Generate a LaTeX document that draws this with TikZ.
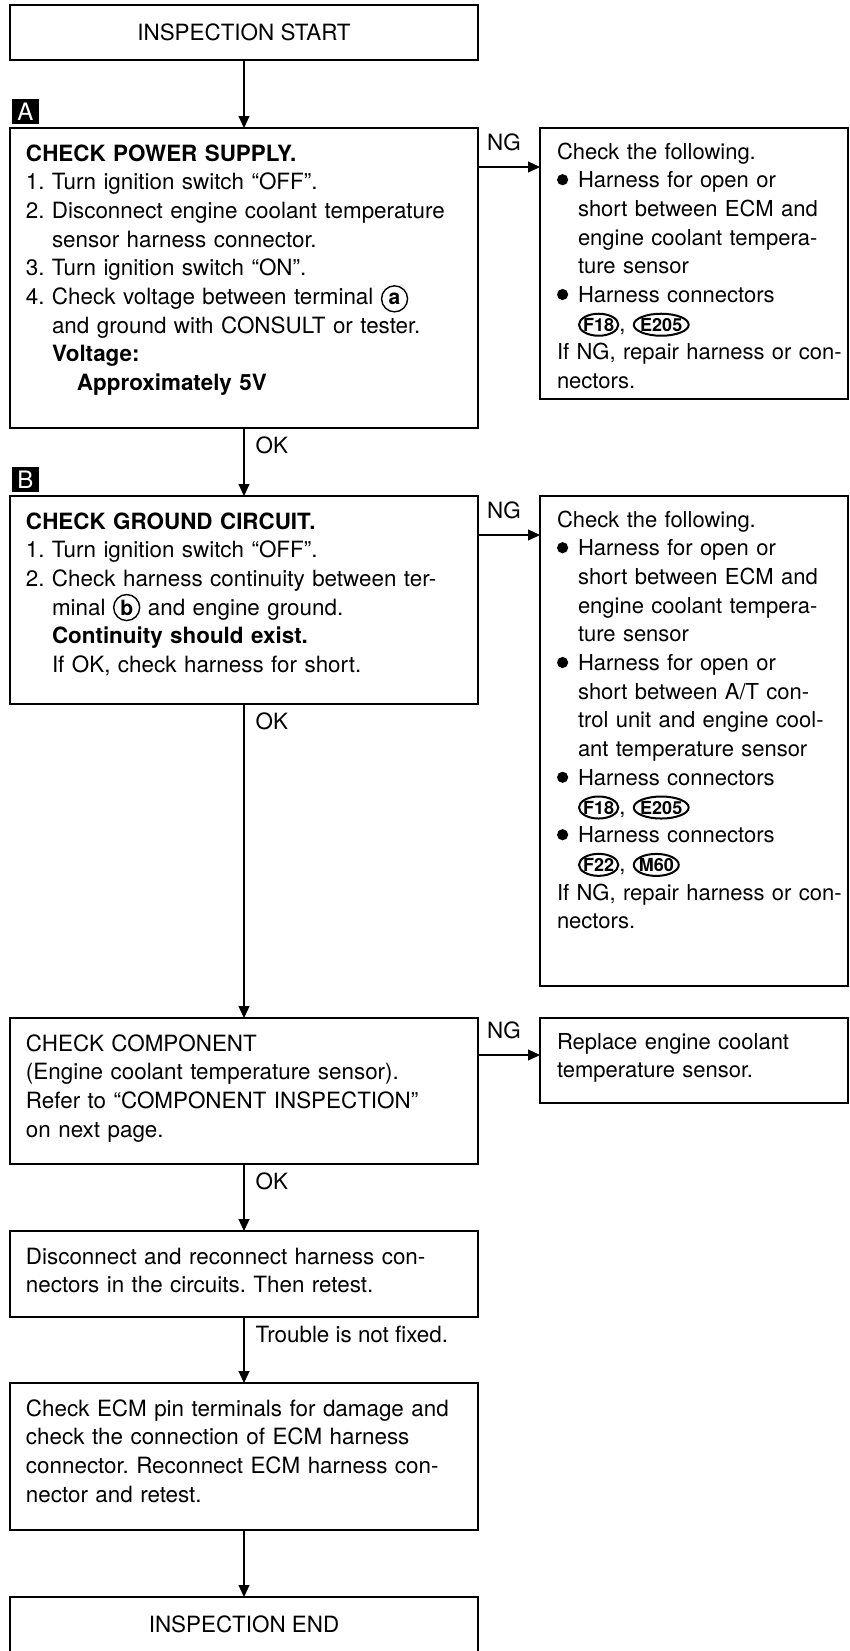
\documentclass[tikz,border=0pt]{standalone}
\usepackage{fontspec}
\setmainfont{TeX Gyre Heros}
\usetikzlibrary{positioning,shapes.geometric,arrows.meta}
\frenchspacing

\newcommand{\txt}{\fontsize{11.2}{14.35}\selectfont}
\newcommand{\sidetxt}{\fontsize{11}{14.35}\selectfont}
\newcommand{\lbltxt}{\fontsize{11.2}{14}\selectfont}
\newcommand{\nr}[1]{\makebox[13pt][l]{#1}}
\newcommand{\ind}{\hspace*{13pt}}
\newcommand{\bind}{\hspace*{10.5pt}}
\newcommand{\blt}{\makebox[10.5pt][l]{\tikz[baseline=-4pt]\fill (2.8pt,0) circle (2.8pt);}}
\newcommand{\conn}[1]{\tikz[baseline=(cn.base)]\node[cnoval] (cn) {#1};}
\newcommand{\term}[1]{\tikz[baseline=(tm.base)]\node[termcirc] (tm) {#1};}

\tikzset{
    nested/.style={text width={}, text height={}, text depth={}, align=center, execute at begin node={}},
    cnoval/.style={nested, ellipse, draw, line width=1pt, inner xsep=-0.8pt, inner ysep=0pt, minimum height=11pt, font=\bfseries\fontsize{9}{9}\selectfont},
    termcirc/.style={nested, circle, draw, line width=0.7pt, inner sep=0pt, minimum size=13pt, font=\bfseries\fontsize{10.5}{10.5}\selectfont},
}

\begin{document}
\begin{tikzpicture}[
    box/.style={draw, line width=0.8pt, outer sep=0pt},
    mainbox/.style={box, text width=220pt, inner xsep=7pt, inner ysep=0pt, align=left, text height=16.5pt, font=\txt,
        execute at begin node={\leftskip=1pt\rightskip=0pt plus 1fil minus 20pt}},
    sidebox/.style={box, text width=143pt, inner xsep=5.5pt, inner ysep=0pt, align=left, text height=15.5pt, font=\sidetxt,
        execute at begin node={\leftskip=3pt\rightskip=0pt plus 1fil minus 20pt}},
    endbox/.style={box, minimum width=234pt, minimum height=27.5pt, inner sep=0pt, font=\lbltxt},
    marker/.style={fill=black, text=white, minimum width=13.5pt, minimum height=12.5pt, inner sep=0pt, outer sep=0pt, font=\fontsize{12}{12}\selectfont},
    flow/.style={line width=0.6pt, -{Triangle[length=6pt, width=5.5pt]}},
    lbl/.style={inner sep=2pt, font=\lbltxt},
]
    \useasboundingbox (0,0) rectangle (425pt,-825.5pt);

    % Start
    \node[endbox, anchor=north west] (start) at (5pt,-2.5pt) {INSPECTION START};

    % A
    \node[mainbox, text depth=133.5pt, below=34pt of start] (A) {%
        \textbf{CHECK POWER SUPPLY.}\\
        \nr{1.}Turn ignition switch “OFF”.\\
        \nr{2.}Disconnect engine coolant temperature\\
        \ind sensor harness connector.\\
        \nr{3.}Turn ignition switch “ON”.\\
        \nr{4.}Check voltage between terminal \term{a}\\
        \ind and ground with CONSULT or tester.\\
        \ind\textbf{Voltage:}\\
        \hspace*{25.5pt}\textbf{Approximately 5V}};
    \node[marker, above right=2pt and 1pt of A.north west] (mA) {A};
    \node[sidebox, text depth=120pt, right=31pt of A.north east, anchor=north west] (ngA) {%
        Check the following.\\
        \blt Harness for open or\\
        \bind short between ECM and\\
        \bind engine coolant tempera-\\
        \bind ture sensor\\
        \blt Harness connectors\\
        \bind\conn{F18}, \conn{E205}\\
        If NG, repair harness or con-\\
        nectors.};

    % B
    \node[mainbox, text depth=87.5pt, below=34pt of A] (B) {%
        \textbf{CHECK GROUND CIRCUIT.}\\
        \nr{1.}Turn ignition switch “OFF”.\\
        \nr{2.}Check harness continuity between ter-\\
        \ind minal \term{b} and engine ground.\\
        \ind\textbf{Continuity should exist.}\\
        \ind If OK, check harness for short.};
    \node[marker, above right=2pt and 1pt of B.north west] (mB) {B};
    \node[sidebox, text depth=229.5pt, right=31pt of B.north east, anchor=north west] (ngB) {%
        Check the following.\\
        \blt Harness for open or\\
        \bind short between ECM and\\
        \bind engine coolant tempera-\\
        \bind ture sensor\\
        \blt Harness for open or\\
        \bind short between A/T con-\\
        \bind trol unit and engine cool-\\
        \bind ant temperature sensor\\
        \blt Harness connectors\\
        \bind\conn{F18}, \conn{E205}\\
        \blt Harness connectors\\
        \bind\conn{F22}, \conn{M60}\\
        If NG, repair harness or con-\\
        nectors.};

    % component
    \node[mainbox, text depth=56.5pt, below=157pt of B] (comp) {%
        CHECK COMPONENT\\
        (Engine coolant temperature sensor).\\
        Refer to “COMPONENT INSPECTION”\\
        on next page.};
    \node[sidebox, text depth=27pt, right=31pt of comp.north east, anchor=north west] (rep) {%
        Replace engine coolant\\
        temperature sensor.};

    % reconnect, ECM, end
    \node[mainbox, text depth=26.5pt, below=33.5pt of comp] (disc) {%
        Disconnect and reconnect harness con-\\
        nectors in the circuits. Then retest.};
    \node[mainbox, text depth=57pt, below=33pt of disc] (ecm) {%
        Check ECM pin terminals for damage and\\
        check the connection of ECM harness\\
        connector. Reconnect ECM harness con-\\
        nector and retest.};
    \node[endbox, below=33.5pt of ecm] (end) {INSPECTION END};

    % main line
    \draw[flow] (start) -- (A);
    \draw[flow] (A) -- node[lbl, pos=0, below right=2pt and 3.5pt] {OK} (B);
    \draw[flow] (B) -- node[lbl, pos=0, below right=2pt and 3.5pt] {OK} (comp);
    \draw[flow] (comp) -- node[lbl, pos=0, below right=2pt and 3.5pt] {OK} (disc);
    \draw[flow] (disc) -- node[lbl, pos=0, below right=2pt and 3.5pt] {Trouble is not fixed.} (ecm);
    \draw[flow] (ecm) -- (end);

    % NG branches
    \draw[flow] ([yshift=-19.5pt]A.north east) -- node[lbl, pos=0.42, above=6pt] {NG} ([yshift=-19.5pt]A.north east -| ngA.west);
    \draw[flow] ([yshift=-19.5pt]B.north east) -- node[lbl, pos=0.42, above=6pt] {NG} ([yshift=-19.5pt]B.north east -| ngB.west);
    \draw[flow] ([yshift=-18.5pt]comp.north east) -- node[lbl, pos=0.42, above=6pt] {NG} ([yshift=-18.5pt]comp.north east -| rep.west);
\end{tikzpicture}
\end{document}
